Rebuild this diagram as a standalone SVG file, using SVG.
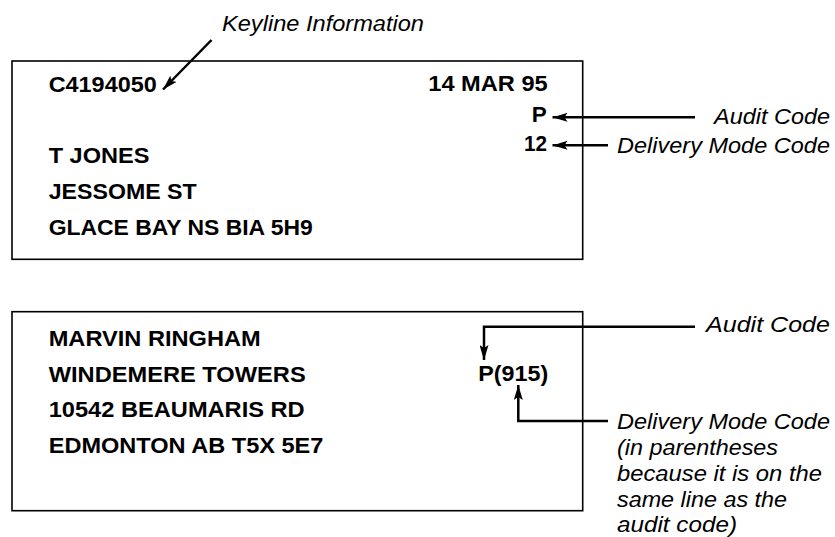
<svg xmlns="http://www.w3.org/2000/svg" width="835" height="537" viewBox="0 0 835 537">
<style>
.box{fill:none;stroke:#000;stroke-width:1.6}
.b{font-family:"Liberation Sans",Arial,sans-serif;font-weight:bold;font-size:22.5px;fill:#000}
.i{font-family:"Liberation Sans",Arial,sans-serif;font-style:italic;font-size:22px;fill:#000}
.c{fill:none;stroke:#000;stroke-width:2.5;marker-end:url(#ah)}
</style>
<defs>
<marker id="ah" viewBox="0 0 15 9" markerWidth="15" markerHeight="9" markerUnits="userSpaceOnUse" refX="15" refY="4.5" orient="auto">
<path d="M0,0 L15,4.5 L0,9 L3,4.5 Z" fill="#000"/>
</marker>
</defs>
<rect width="835" height="537" fill="#fff"/>

<g id="label1">
<rect class="box" x="12" y="61" width="570.7" height="198.3"/>
<text class="b" x="48.7" y="92" textLength="108" lengthAdjust="spacingAndGlyphs">C4194050</text>
<text class="b" x="428.3" y="91" textLength="119.4" lengthAdjust="spacingAndGlyphs">14 MAR 95</text>
<text class="b" x="546.7" y="122" text-anchor="end">P</text>
<text class="b" x="524" y="150.7" textLength="23" lengthAdjust="spacingAndGlyphs">12</text>
<text class="b" x="48.7" y="163.3" textLength="100.7" lengthAdjust="spacingAndGlyphs">T JONES</text>
<text class="b" x="48.7" y="199.3" textLength="148" lengthAdjust="spacingAndGlyphs">JESSOME ST</text>
<text class="b" x="48.7" y="235" textLength="264" lengthAdjust="spacingAndGlyphs">GLACE BAY NS BIA 5H9</text>
</g>

<g id="label2">
<rect class="box" x="12" y="311.7" width="570.7" height="199"/>
<text class="b" x="48.7" y="346" textLength="212" lengthAdjust="spacingAndGlyphs">MARVIN RINGHAM</text>
<text class="b" x="48.7" y="381.7" textLength="257" lengthAdjust="spacingAndGlyphs">WINDEMERE TOWERS</text>
<text class="b" x="48.7" y="417.3" textLength="256" lengthAdjust="spacingAndGlyphs">10542 BEAUMARIS RD</text>
<text class="b" x="48.7" y="453.3" textLength="274.7" lengthAdjust="spacingAndGlyphs">EDMONTON AB T5X 5E7</text>
<text class="b" x="478.3" y="381" textLength="70" lengthAdjust="spacingAndGlyphs">P(915)</text>
</g>

<g id="keyline-note">
<text class="i" x="222" y="31" textLength="202" lengthAdjust="spacingAndGlyphs">Keyline Information</text>
</g>
<g id="audit-note-1">
<text class="i" x="714" y="124" textLength="116" lengthAdjust="spacingAndGlyphs">Audit Code</text>
</g>
<g id="delivery-note-1">
<text class="i" x="617" y="152.5" textLength="213" lengthAdjust="spacingAndGlyphs">Delivery Mode Code</text>
</g>
<g id="audit-note-2">
<text class="i" x="706" y="332" textLength="124" lengthAdjust="spacingAndGlyphs">Audit Code</text>
</g>
<g id="delivery-note-2">
<text class="i" x="617" y="428.5" textLength="213" lengthAdjust="spacingAndGlyphs">Delivery Mode Code</text>
<text class="i" x="617" y="454.5" textLength="161" lengthAdjust="spacingAndGlyphs">(in parentheses</text>
<text class="i" x="617" y="480.5" textLength="205" lengthAdjust="spacingAndGlyphs">because it is on the</text>
<text class="i" x="617" y="506.5" textLength="170" lengthAdjust="spacingAndGlyphs">same line as the</text>
<text class="i" x="617" y="532" textLength="120" lengthAdjust="spacingAndGlyphs">audit code)</text>
</g>

<g id="connectors">
<path class="c" d="M211.5,40 L163,89.5"/>
<path class="c" d="M695,117.3 L552.5,117.3"/>
<path class="c" d="M608,145.3 L552.5,145.3"/>
<path class="c" d="M695,326.7 L484,326.7 L484,360"/>
<path class="c" d="M608,421 L518.3,421 L518.3,385"/>
</g>
</svg>
